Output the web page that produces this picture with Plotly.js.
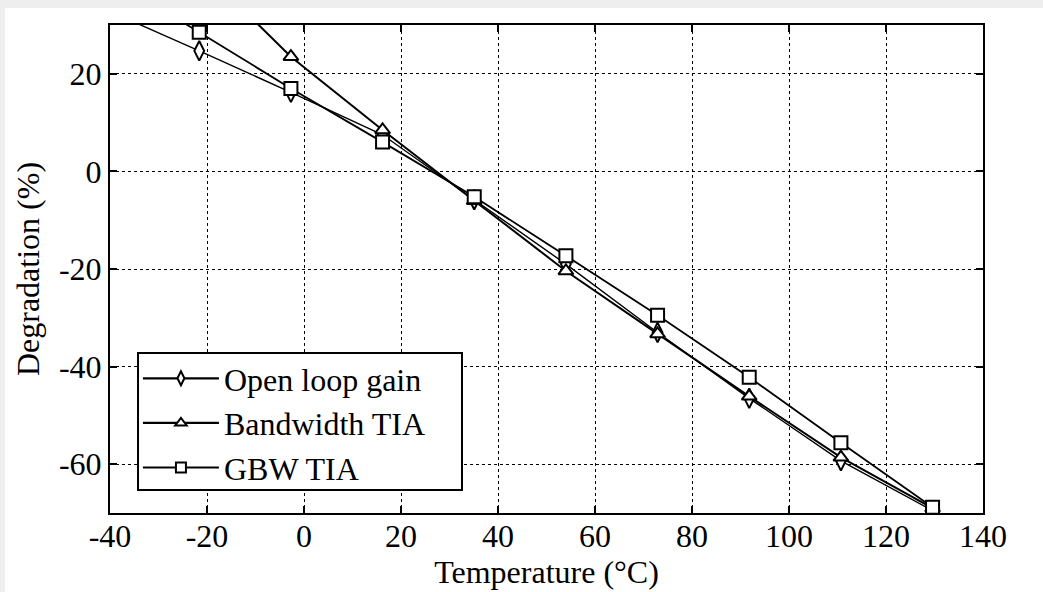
<!DOCTYPE html>
<html>
<head>
<meta charset="utf-8">
<script src="https://cdn.plot.ly/plotly-3.0.1.min.js"></script>
<style>html,body{margin:0;padding:0;background:#fff;}#chart{width:1043px;height:592px;}</style>
</head>
<body>
<div id="chart"></div>
<script>
// Data
const temperature = [-40.5, -21.6, -2.7, 16.2, 35.1, 54.0, 72.9, 91.8, 110.7, 129.6];
const openLoopGain = [33, 24.7, 16.2, 7.5, -5.8, -19, -33, -46.5, -59.3, -69.5];
const bandwidthTIA = [62, 42, 23.5, 8.5, -6, -20.4, -33.3, -46.1, -58.6, -69];
const gbwTIA      = [40, 28.5, 17, 6, -5.2, -17.3, -29.5, -42.2, -55.6, -68.8];
const seriesNames = ['Open loop gain', 'Bandwidth TIA', 'GBW TIA'];
const xTicks = [-40, -20, 0, 20, 40, 60, 80, 100, 120, 140];
const yTicks = [-60, -40, -20, 0, 20];

const fontFam = 'Liberation Serif';

const symbols = ['diamond-tall', 'triangle-up', 'square'];
const plotSizes = [14, 13, 13];
const lineWidths = [1.4, 2, 1.8];
const seriesY = [openLoopGain, bandwidthTIA, gbwTIA];

const data = [];
seriesY.forEach((y, i) => {
  data.push({
    x: temperature, y: y, name: seriesNames[i], mode: 'lines+markers', type: 'scatter',
    showlegend: false,
    line: {color: '#000', width: lineWidths[i]},
    marker: {symbol: symbols[i], size: plotSizes[i], color: '#fff', line: {color: '#000', width: 2}},
    cliponaxis: true
  });
});
// legend-only entries (smaller markers, like the reference legend)
seriesY.forEach((y, i) => {
  data.push({
    x: [null], y: [null], name: seriesNames[i], mode: 'lines+markers', type: 'scatter',
    legendgroup: 'g' + i, showlegend: true,
    line: {color: '#000', width: 2.2},
    marker: {symbol: symbols[i], size: 10, color: '#fff', line: {color: '#000', width: 2}}
  });
});

const axisCommon = {
  showline: true, linecolor: '#000', linewidth: 2, mirror: 'ticks',
  ticks: 'inside', ticklen: 7, tickwidth: 2, tickcolor: '#000',
  showgrid: true, gridcolor: '#000', gridwidth: 1, griddash: 'dot',
  zeroline: false,
  tickfont: {family: fontFam, size: 32, color: '#000'}
};

const layout = {
  width: 1043, height: 592,
  paper_bgcolor: '#eeeeee', plot_bgcolor: '#fff',
  font: {family: fontFam, color: '#000'},
  margin: {l: 110, r: 60, t: 25, b: 79},
  showlegend: true,
  shapes: [
    {type: 'rect', xref: 'paper', yref: 'paper', layer: 'below',
     x0: -0.1203, x1: 1.0687, y0: -0.1619, y1: 1.0348,
     fillcolor: '#fff', line: {width: 0}},
    // legend frame (opaque, as in the reference)
    {type: 'rect', xref: 'paper', yref: 'paper', layer: 'above',
     x0: 0.0321, x1: 0.4032, y0: 0.0471, y1: 0.3279,
     fillcolor: '#fff', line: {color: '#000', width: 2}}
  ],
  xaxis: Object.assign({}, axisCommon, {
    range: [-40, 140], tickvals: xTicks, ticktext: xTicks.map(String),
    ticklabelstandoff: -6,
    title: {text: 'Temperature (°C)', font: {family: fontFam, size: 32, color: '#000'}, standoff: 0}
  }),
  yaxis: Object.assign({}, axisCommon, {
    range: [-70, 30], tickvals: yTicks, ticktext: yTicks.map(String),
    title: {text: 'Degradation (%)', font: {family: fontFam, size: 32, color: '#000'}, standoff: 10}
  }),
  legend: {
    x: 0.032, y: 0.332, xanchor: 'left', yanchor: 'top',
    bgcolor: 'rgba(0,0,0,0)', bordercolor: 'rgba(0,0,0,0)', borderwidth: 0,
    font: {family: fontFam, size: 32, color: '#000'},
    itemwidth: 76, traceorder: 'grouped', tracegroupgap: 0
  }
};

Plotly.newPlot('chart', data, layout, {displayModeBar: false, staticPlot: true});
</script>
</body>
</html>
